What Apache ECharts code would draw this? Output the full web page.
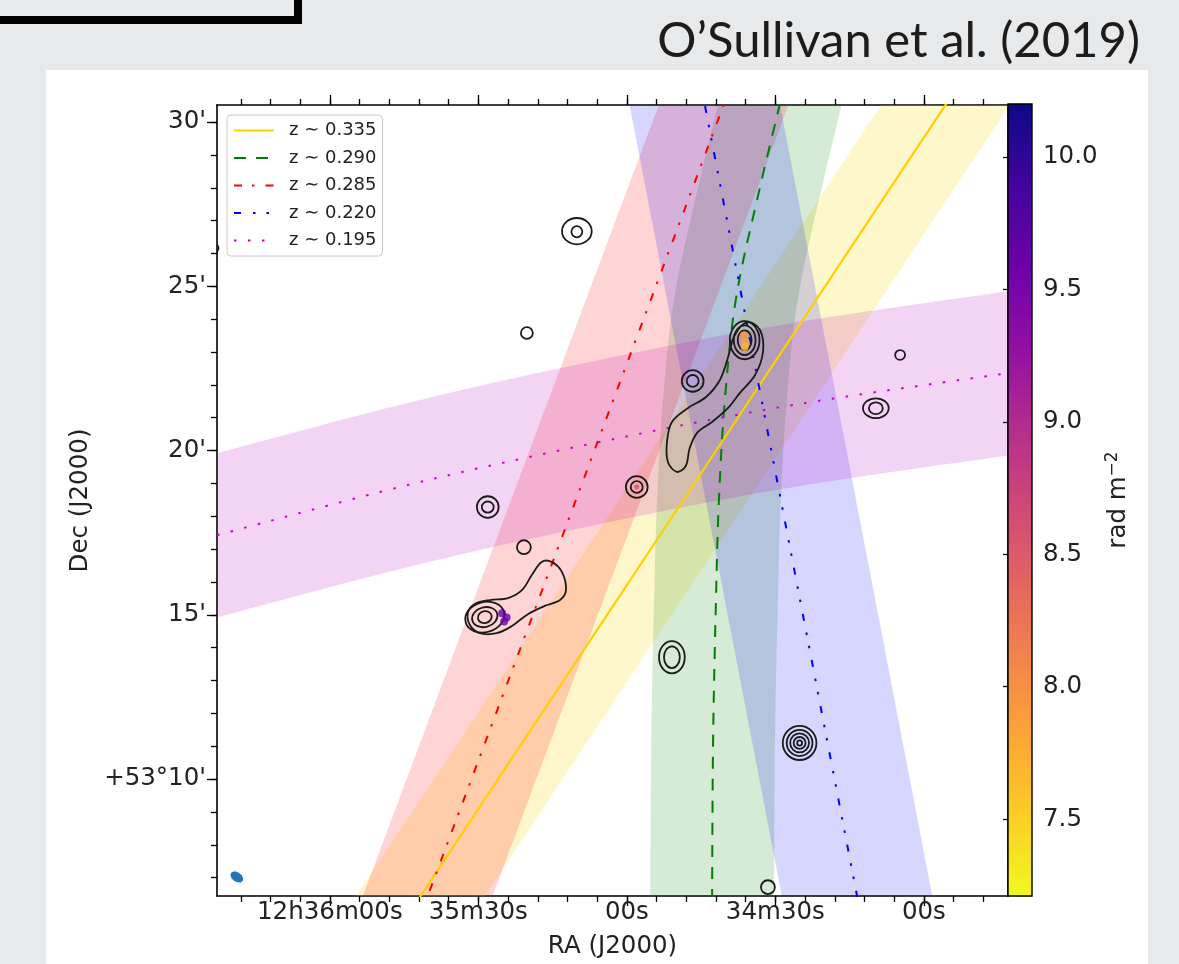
<!DOCTYPE html>
<html>
<head>
<meta charset="utf-8">
<script src="https://cdn.jsdelivr.net/npm/echarts@6.0.0/dist/echarts.min.js"></script>
<style>
  html, body { margin: 0; padding: 0; background: #e8e9eb; }
  #chart { width: 1179px; height: 964px; }
</style>
</head>
<body>
<div id="chart"></div>
<script>
// RA is in seconds after 12h00m, Dec in arcmin after +53 deg
var raRange = [2023.0, 2182.8];
var decRange = [6.44, 30.52];
var cbRange = [7.21, 10.2];

var raMajorTicks = [2160, 2130, 2100, 2070, 2040];
var raTickLabels = ['12h36m00s', '35m30s', '00s', '34m30s', '00s'];
var decMajorTicks = [10, 15, 20, 25, 30];
var decTickLabels = ["+53°10'", "15'", "20'", "25'", "30'"];
var rmTicks = [7.5, 8.0, 8.5, 9.0, 9.5, 10.0];

var zLabels = ['z ∼ 0.335', 'z ∼ 0.290', 'z ∼ 0.285', 'z ∼ 0.220', 'z ∼ 0.195'];

// filament axes (RA s, Dec arcmin)
var line335 = [[2148.9, 4.80], [2029.6, 31.89]];
var line290 = [[2066.9, 31.89], [2073.7, 27.63], [2078.0, 24.58], [2080.2, 21.54],
               [2081.4, 18.49], [2082.0, 15.45], [2082.6, 10.88], [2082.8, 4.80]];
var line285 = [[2144.3, 4.80], [2077.05, 31.89]];
var line220 = [[2086.0, 31.89], [2051.4, 4.80]];
var line195 = [[2196.4, 16.86], [2145.9, 18.89], [2105.5, 20.26], [2065.1, 21.42], [2012.5, 22.57]];
// band half widths: RA s for the first four, Dec arcmin for the last
var bandHalf = [13.0, 12.5, 13.1, 15.2, 2.5];

// contour rings: ra, dec, semi-axis (RA s), semi-axis (Dec arcmin), tilt deg
var contourRings = [
  [2110.1, 26.68, 3.0, 0.40, 0], [2110.1, 26.66, 1.1, 0.17, 0],
  [2120.2, 23.58, 1.2, 0.18, 0],
  [2086.7, 22.12, 2.2, 0.33, 0], [2086.7, 22.12, 1.2, 0.18, 0],
  [2076.2, 23.36, 3.0, 0.58, 0], [2076.2, 23.36, 2.2, 0.45, 0], [2076.2, 23.36, 1.4, 0.30, 0],
  [2049.7, 21.29, 2.6, 0.30, 0], [2049.7, 21.29, 1.4, 0.18, 0],
  [2044.8, 22.91, 1.0, 0.15, 0],
  [2098.0, 18.89, 2.2, 0.33, 0], [2098.0, 18.89, 1.2, 0.18, 0],
  [2128.1, 18.28, 2.2, 0.33, 0], [2128.1, 18.28, 1.2, 0.17, 0],
  [2120.8, 17.06, 1.4, 0.21, 0],
  [2128.7, 14.93, 4.0, 0.46, 15], [2128.7, 14.93, 2.6, 0.30, 15], [2128.7, 14.93, 1.4, 0.18, 15],
  [2090.9, 13.71, 2.6, 0.49, 0], [2090.9, 13.71, 1.6, 0.33, 0],
  [2065.1, 11.10, 3.4, 0.52, 0], [2065.1, 11.10, 2.6, 0.40, 0], [2065.1, 11.10, 1.9, 0.29, 0],
  [2065.1, 11.10, 1.2, 0.18, 0], [2065.1, 11.10, 0.5, 0.08, 0],
  [2071.5, 6.71, 1.4, 0.21, 0],
  [2183.5, 26.16, 1.0, 0.15, 0]
];
// extended emission outlines
var tailOutline = [[2132.1, 15.08], [2131.7, 14.69], [2129.7, 14.44], [2126.3, 14.44], [2123.2, 14.66],
  [2120.0, 15.02], [2116.6, 15.27], [2113.5, 15.45], [2112.3, 15.75], [2113.1, 16.30], [2115.2, 16.61],
  [2117.2, 16.61], [2119.2, 16.21], [2121.2, 15.75], [2124.0, 15.51], [2127.7, 15.45], [2130.7, 15.33]];
var centreOutline = [[2075.6, 23.91], [2073.1, 23.67], [2072.5, 23.00], [2074.1, 22.30], [2077.2, 21.75],
  [2079.6, 21.29], [2082.8, 20.87], [2085.7, 20.56], [2087.3, 20.08], [2088.1, 19.53], [2089.9, 19.35],
  [2091.7, 19.65], [2091.9, 20.26], [2090.9, 20.87], [2087.7, 21.29], [2084.0, 21.63], [2081.2, 22.15],
  [2079.6, 22.82], [2078.2, 23.52]];
// Faraday depth pixels: ra, dec, rad m^-2
var rmPixels = [
  [2125.2, 15.05, 9.62], [2124.3, 14.92, 9.70], [2124.8, 14.80, 9.55],
  [2076.4, 23.50, 7.95], [2076.0, 23.30, 7.85], [2076.2, 23.15, 7.70],
  [2098.0, 18.89, 8.65]
];
var beam = [2178.8, 7.02, 1.4, 0.14, -35];

var plasma = ['#0d0887', '#41049d', '#6a00a8', '#8f0da4', '#b12a90', '#cc4778',
              '#e16462', '#f2844b', '#fca636', '#fcce25', '#f0f921'];

var raMinorTicks = [];
for (var r = 2028; r <= 2180; r += 6) raMinorTicks.push(r);
var decMinorTicks = [];
for (var d = 7; d <= 30; d += 1) decMinorTicks.push(d);

var tickFont = { fontFamily: 'DejaVu Sans', fontSize: 24.5, color: '#222' };
var frameLine = { color: '#000', width: 1.6 };
var tickLine = { color: '#000', width: 1.3 };

function pick(values, labels) {
  return function (v) {
    for (var i = 0; i < values.length; i++) if (Math.abs(values[i] - v) < 1e-6) return labels[i];
    return '';
  };
}

function raAxis(pos, ticks, len, showLine, labels) {
  var ax = {
    gridIndex: 0, type: 'value', position: pos, inverse: true,
    min: raRange[0], max: raRange[1], splitLine: { show: false },
    axisLine: { show: showLine, onZero: false, lineStyle: frameLine },
    axisTick: { customValues: ticks, length: len, lineStyle: tickLine },
    axisLabel: { show: false }
  };
  if (labels) {
    ax.axisLabel = Object.assign({ customValues: ticks, formatter: pick(ticks, labels), margin: 4 }, tickFont);
    ax.name = 'RA (J2000)';
    ax.nameLocation = 'middle';
    ax.nameGap = 38;
    ax.nameTextStyle = tickFont;
  }
  return ax;
}

function decAxis(ticks, len, labels) {
  var ax = {
    gridIndex: 0, type: 'value', position: 'left',
    min: decRange[0], max: decRange[1], splitLine: { show: false },
    axisLine: { show: !!labels, onZero: false, lineStyle: frameLine },
    axisTick: { customValues: ticks, length: len, lineStyle: tickLine },
    axisLabel: { show: false }
  };
  if (labels) {
    ax.axisLabel = Object.assign({ customValues: ticks, formatter: pick(ticks, labels), margin: 11 }, tickFont);
    ax.name = 'Dec (J2000)';
    ax.nameLocation = 'middle';
    ax.nameRotate = 90;
    ax.nameGap = 121;
    ax.nameTextStyle = tickFont;
  }
  return ax;
}

// smooth a pixel polyline (Catmull-Rom) so curved band edges do not show kinks
function spline(pts) {
  if (pts.length < 3) return pts;
  var out = [], n = 16;
  for (var i = 0; i < pts.length - 1; i++) {
    var p0 = pts[Math.max(i - 1, 0)], p1 = pts[i], p2 = pts[i + 1], p3 = pts[Math.min(i + 2, pts.length - 1)];
    for (var k = 0; k < n; k++) {
      var t = k / n, t2 = t * t, t3 = t2 * t;
      out.push([0, 1].map(function (j) {
        return 0.5 * (2 * p1[j] + (p2[j] - p0[j]) * t + (2 * p0[j] - 5 * p1[j] + 4 * p2[j] - p3[j]) * t2 +
          (3 * p1[j] - p0[j] - 3 * p2[j] + p3[j]) * t3);
      }));
    }
  }
  out.push(pts[pts.length - 1]);
  return out;
}

function band(line, half, alongDec, color) {
  return {
    type: 'custom', xAxisIndex: 0, yAxisIndex: 0, clip: true, silent: true, z: 1,
    data: [line[0]],
    renderItem: function (params, api) {
      var a = line.map(function (p) {
        return api.coord(alongDec ? [p[0], p[1] + half] : [p[0] + half, p[1]]);
      });
      var b = line.map(function (p) {
        return api.coord(alongDec ? [p[0], p[1] - half] : [p[0] - half, p[1]]);
      });
      var pts = spline(a).concat(spline(b).reverse());
      return { type: 'polygon', shape: { points: pts }, style: { fill: color } };
    }
  };
}

function zLine(name, data, color, dash, width) {
  return {
    name: name, type: 'line', xAxisIndex: 0, yAxisIndex: 0, data: data,
    symbol: 'none', silent: true, z: 4, clip: true, smooth: data.length > 2 ? 0.35 : false,
    itemStyle: { color: color },
    lineStyle: { color: color, width: width, type: dash }
  };
}

function outline(points) {
  return {
    type: 'custom', xAxisIndex: 0, yAxisIndex: 0, clip: true, silent: true, z: 5,
    data: [points[0]],
    renderItem: function (params, api) {
      var pts = points.map(function (p) { return api.coord(p); });
      return { type: 'polygon', shape: { points: pts, smooth: 0.35 },
               style: { fill: 'none', stroke: '#1b1b1b', lineWidth: 1.8 } };
    }
  };
}

function ellipseItem(api, v, style) {
  var c = api.coord([v[0], v[1]]);
  var rx = Math.abs(api.coord([v[0] + v[2], v[1]])[0] - c[0]);
  var ry = Math.abs(api.coord([v[0], v[1] + v[3]])[1] - c[1]);
  return { type: 'ellipse', x: c[0], y: c[1], rotation: v[4] * Math.PI / 180,
           shape: { cx: 0, cy: 0, rx: rx, ry: ry }, style: style };
}

var cbStops = plasma.map(function (c, i) { return { offset: i / (plasma.length - 1), color: c }; });

var option = {
  animation: false,
  backgroundColor: '#e8e9eb',
  graphic: [
    { type: 'rect', z: -1, shape: { x: 46, y: 70, width: 1102, height: 900 }, style: { fill: '#ffffff' } },
    { type: 'rect', z: -1, shape: { x: -20, y: -20, width: 318, height: 40 },
      style: { fill: 'none', stroke: '#000', lineWidth: 8 } },
    { type: 'text', z: 10, style: { text: 'O’Sullivan et al. (2019)', x: 1140, y: 41, align: 'right',
      verticalAlign: 'middle', fontFamily: 'Lato', fontSize: 49, fill: '#1c1c1c' } }
  ],
  grid: [
    { left: 217, top: 105, width: 791, height: 791 },
    { left: 1008, top: 104, width: 24, height: 792 }
  ],
  legend: {
    left: 227, top: 115, orient: 'vertical', selectedMode: false,
    itemWidth: 40, itemHeight: 18, itemGap: 9.5, padding: [6.5, 6, 6.5, 6],
    backgroundColor: 'rgba(255,255,255,0.8)', borderColor: '#cccccc', borderWidth: 1, borderRadius: 4,
    itemStyle: { color: 'rgba(0,0,0,0)', borderColor: 'rgba(0,0,0,0)', borderWidth: 0, opacity: 0 },
    textStyle: { fontFamily: 'DejaVu Sans', fontSize: 18, color: '#222', padding: [0, 0, 0, 10] },
    data: zLabels
  },
  visualMap: {
    show: false, type: 'continuous', seriesIndex: 13, dimension: 2,
    min: cbRange[0], max: cbRange[1], inRange: { color: plasma.slice().reverse() }
  },
  xAxis: [
    raAxis('bottom', raMajorTicks, 10, true, raTickLabels),
    raAxis('bottom', raMinorTicks, 6, false, null),
    raAxis('top', raMajorTicks, 10, true, null),
    raAxis('top', raMinorTicks, 6, false, null),
    { gridIndex: 1, type: 'value', min: 0, max: 1, show: false }
  ],
  yAxis: [
    decAxis(decMajorTicks, 10, decTickLabels),
    decAxis(decMinorTicks, 6, null),
    { gridIndex: 0, type: 'value', position: 'right', min: decRange[0], max: decRange[1],
      splitLine: { show: false }, axisLine: { show: true, onZero: false, lineStyle: frameLine },
      axisTick: { show: false }, axisLabel: { show: false } },
    { gridIndex: 1, type: 'value', position: 'right', min: cbRange[0], max: cbRange[1],
      splitLine: { show: false }, axisLine: { show: false },
      axisTick: { customValues: rmTicks, length: 6, lineStyle: tickLine },
      axisLabel: Object.assign({ customValues: rmTicks, margin: 11,
        formatter: function (v) { return v.toFixed(1); } }, tickFont),
      name: '{n|rad m}{s|−2}', nameLocation: 'middle', nameRotate: 90, nameGap: 72,
      nameTextStyle: { fontFamily: 'DejaVu Sans', color: '#222',
        rich: { n: { fontFamily: 'DejaVu Sans', fontSize: 24.5, color: '#222', lineHeight: 30 },
                s: { fontFamily: 'DejaVu Sans', fontSize: 17, color: '#222', lineHeight: 17, verticalAlign: 'top' } } } },
    { gridIndex: 1, type: 'value', position: 'left', min: cbRange[0], max: cbRange[1],
      splitLine: { show: false }, axisLine: { show: false },
      axisTick: { customValues: rmTicks, length: 5, lineStyle: tickLine }, axisLabel: { show: false } }
  ],
  series: [
    band(line335, bandHalf[0], false, 'rgba(255, 215, 0, 0.2)'),
    band(line290, bandHalf[1], false, 'rgba(0, 128, 0, 0.16)'),
    band(line285, bandHalf[2], false, 'rgba(255, 0, 0, 0.17)'),
    band(line220, bandHalf[3], false, 'rgba(0, 0, 255, 0.16)'),
    band(line195, bandHalf[4], true, 'rgba(191, 0, 191, 0.17)'),
    zLine(zLabels[0], line335, '#ffd000', 'solid', 2.2),
    zLine(zLabels[1], line290, '#008000', [12, 10], 2),
    zLine(zLabels[2], line285, '#ff0000', [8, 10, 2.5, 11], 2),
    zLine(zLabels[3], line220, '#0000ff', [7, 12, 2.5, 11, 2.5, 12], 2),
    zLine(zLabels[4], line195, '#cc00cc', [2.5, 11.5], 2),
    {
      type: 'custom', xAxisIndex: 0, yAxisIndex: 0, clip: true, silent: true, z: 5,
      data: contourRings,
      renderItem: function (params, api) {
        var v = [api.value(0), api.value(1), api.value(2), api.value(3), api.value(4)];
        return ellipseItem(api, v, { fill: 'none', stroke: '#1b1b1b', lineWidth: 1.8 });
      }
    },
    outline(tailOutline),
    outline(centreOutline),
    {
      type: 'scatter', xAxisIndex: 0, yAxisIndex: 0, silent: true, z: 6,
      symbol: 'circle', symbolSize: function (v) { return v[2] > 8.5 && v[2] < 8.8 ? 5 : 8; },
      data: rmPixels
    },
    {
      type: 'custom', xAxisIndex: 0, yAxisIndex: 0, clip: true, silent: true, z: 6,
      data: [beam],
      renderItem: function (params, api) {
        var v = [api.value(0), api.value(1), api.value(2), api.value(3), api.value(4)];
        return ellipseItem(api, v, { fill: '#1f77b4' });
      }
    },
    {
      type: 'custom', xAxisIndex: 4, yAxisIndex: 3, silent: true, z: 3,
      data: [[0, cbRange[0]]],
      renderItem: function (params, api) {
        var a = api.coord([0, cbRange[1]]);
        var b = api.coord([1, cbRange[0]]);
        return { type: 'rect', shape: { x: a[0], y: a[1], width: b[0] - a[0], height: b[1] - a[1] },
                 style: { fill: new echarts.graphic.LinearGradient(0, 0, 0, 1, cbStops),
                          stroke: '#000', lineWidth: 1.4 } };
      }
    }
  ]
};

var chart = echarts.init(document.getElementById('chart'));
chart.setOption(option);
</script>
</body>
</html>
